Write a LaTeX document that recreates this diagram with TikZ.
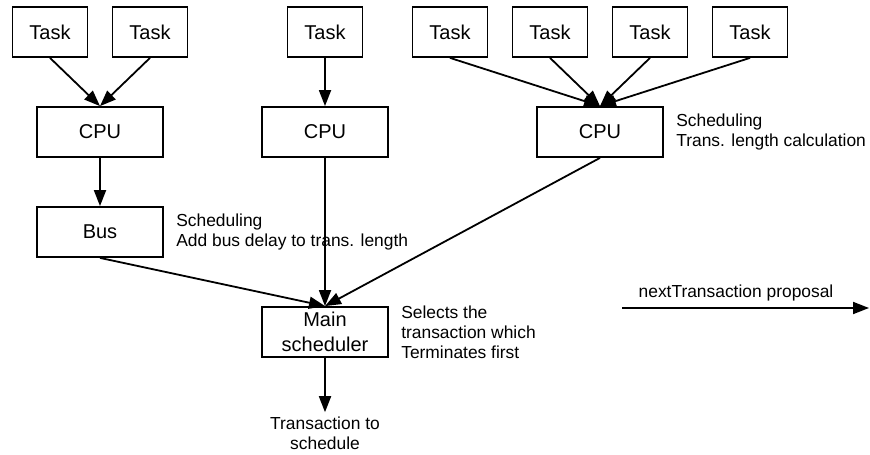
\documentclass[tikz,border=0pt]{standalone}
\usepackage{fontspec}
\setmainfont{Liberation Sans}
\usetikzlibrary{arrows.meta,positioning}

\begin{document}
\begin{tikzpicture}[x=0.5pt,y=-0.5pt,
  box/.style={draw,line width=0.9pt,minimum height=25pt,inner sep=1pt,
    font=\fontsize{10}{12.5}\selectfont,align=center},
  taskbox/.style={box,minimum width=37.5pt},
  unitbox/.style={box,minimum width=63pt},
  note/.style={font=\fontsize{8.7}{10}\selectfont,align=left,inner sep=0pt},
  flow/.style={line width=0.9pt,-{Triangle[length=8pt,width=6pt]}}]
  \useasboundingbox (0,0) rectangle (870,454);

  % Tasks
  \foreach \n/\x in {1/50, 2/150, 3/325, 4/450, 5/550, 6/650, 7/750}
    \node[taskbox] (t\n) at (\x,32) {Task};

  % Processors, bus and scheduler
  \node[unitbox] (cpu1) at (100,132) {CPU};
  \node[unitbox] (cpu2) at (325,132) {CPU};
  \node[unitbox] (cpu3) at (600,132) {CPU};
  \node[unitbox] (bus) at (100,232) {Bus};
  \node[unitbox] (main) at (325,332) {Main\\scheduler};
  \node[note,align=center,inner sep=2pt] (out) at (325,433) {Transaction to\\schedule};

  % Notes
  \node[note,right=6pt of cpu3] (cpu3note) {Scheduling\\Trans. length calculation};
  \node[note,right=6pt of bus] (busnote) {Scheduling\\Add bus delay to trans. length};
  \node[note,right=6pt of main] (mainnote) {Selects the\\transaction which\\Terminates first};

  % Arrows
  \foreach \n in {1,2}
    \draw[flow] (t\n.south) -- (cpu1.north);
  \draw[flow] (t3.south) -- (cpu2.north);
  \foreach \n in {4,...,7}
    \draw[flow] (t\n.south) -- (cpu3.north);
  \draw[flow] (cpu1) -- (bus);
  \foreach \s in {bus,cpu2,cpu3}
    \draw[flow] (\s.south) -- (main.north);
  \draw[flow] (main) -- (out);

  % Legend
  \coordinate (prop0) at (622,308);
  \coordinate (prop1) at (869,308);
  \draw[flow] (prop0) -- (prop1);
  \node[note] (proplabel) at (736,293) {nextTransaction proposal};
\end{tikzpicture}
\end{document}
